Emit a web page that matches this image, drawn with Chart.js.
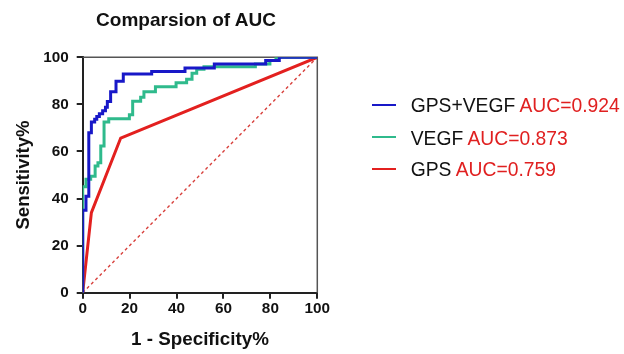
<!DOCTYPE html>
<html>
<head>
<meta charset="utf-8">
<script src="https://cdn.jsdelivr.net/npm/chart.js@4/dist/chart.umd.min.js"></script>
<style>
  html, body { margin: 0; padding: 0; background: #fff; }
  #wrap { position: relative; width: 624px; height: 354px; overflow: hidden; font-family: "Liberation Sans", Arial, sans-serif; }
  #c { position: absolute; left: 0; top: 0; }
  .title { position: absolute; left: 0; top: 8.5px; width: 372px; text-align: center; font-weight: bold; font-size: 19px; line-height: 22px; color: #111; }
  .lg { position: absolute; left: 410.7px; font-size: 19.3px; line-height: 22px; color: #111; white-space: nowrap; }
  .lg span { color: #e02020; }
  .mk { position: absolute; left: 372px; width: 24px; height: 2.4px; }
</style>
</head>
<body>
<div id="wrap">
  <canvas id="c" width="624" height="354"></canvas>
  <div class="title">Comparsion of AUC</div>
  <div class="mk" style="top:103.8px;background:#1818c8"></div>
  <div class="lg" style="top:95px">GPS+VEGF <span>AUC=0.924</span></div>
  <div class="mk" style="top:136.1px;background:#2fba8c"></div>
  <div class="lg" style="top:127.5px">VEGF <span>AUC=0.873</span></div>
  <div class="mk" style="top:167.8px;background:#e3201f"></div>
  <div class="lg" style="top:158.5px">GPS <span>AUC=0.759</span></div>
</div>
<script>
// Data (1 - Specificity %, Sensitivity %)
const seriesNames = ['GPS+VEGF', 'VEGF', 'GPS'];
const aucValues = [0.924, 0.873, 0.759];

const blueFpr = [0, 0, 1.4, 2.6, 3.7, 5.1, 6.0, 7.1, 8.5, 9.7, 10.5, 11.9, 14.2, 17.3, 29.4, 43.6, 56.1, 78.0, 83.8, 100];
const blueTpr = [0, 35, 41, 68, 72.5, 73.7, 74.8, 76, 77.3, 78.8, 81.2, 85.4, 89.8, 92.9, 94, 95.5, 97.2, 98.6, 100, 100];

const greenFpr = [0, 0, 1.4, 3.4, 5.3, 6.5, 7.7, 9.1, 11.1, 19.9, 21.3, 24.7, 26.1, 31.0, 39.8, 44.3, 46.6, 48.6, 51.7, 73.6, 79.8, 82.4, 100];
const greenTpr = [0, 45, 48.2, 49.5, 53.8, 55.2, 62.3, 72.5, 73.9, 75.6, 81.3, 83, 85.4, 87.5, 89.2, 90.7, 93.2, 94.9, 96, 97.2, 98.6, 100, 100];

const redFpr = [0, 3.7, 16.2, 100];
const redTpr = [0, 34, 65.7, 100];

const refFpr = [0, 100];
const refTpr = [0, 100];

const xTicks = [0, 20, 40, 60, 80, 100];
const yTicks = [0, 20, 40, 60, 80, 100];

function pts(xs, ys) { return xs.map((x, i) => ({ x: x, y: ys[i] })); }

const FONT = '"Liberation Sans", Arial, sans-serif';

const frame = {
  id: 'frame',
  beforeDatasetsDraw(chart) {
    const a = chart.chartArea, ctx = chart.ctx;
    ctx.save();
    ctx.strokeStyle = '#555';
    ctx.lineWidth = 1.5;
    ctx.beginPath();
    ctx.moveTo(a.left, a.top);
    ctx.lineTo(a.right, a.top);
    ctx.lineTo(a.right, a.bottom);
    ctx.stroke();
    ctx.restore();
  }
};

new Chart(document.getElementById('c'), {
  type: 'line',
  data: {
    datasets: [
      { label: seriesNames[0], data: pts(blueFpr, blueTpr), borderColor: '#1818c8', borderWidth: 3, stepped: 'before', pointRadius: 0, fill: false },
      { label: seriesNames[1], data: pts(greenFpr, greenTpr), borderColor: '#2fba8c', borderWidth: 3, stepped: 'before', pointRadius: 0, fill: false },
      { label: seriesNames[2], data: pts(redFpr, redTpr), borderColor: '#e3201f', borderWidth: 3, pointRadius: 0, tension: 0, fill: false },
      { label: 'ref', data: pts(refFpr, refTpr), borderColor: '#d8403c', borderWidth: 1.4, borderDash: [3, 3], pointRadius: 0, fill: false }
    ]
  },
  options: {
    responsive: false,
    animation: false,
    layout: { padding: { left: 0, right: 306.7, top: 57.3, bottom: 0 } },
    plugins: { legend: { display: false }, tooltip: { enabled: false }, title: { display: false } },
    scales: {
      x: {
        type: 'linear', min: 0, max: 100,
        afterBuildTicks(s) { s.ticks = xTicks.map(v => ({ value: v })); },
        afterFit(s) { s.height = 61.3; },
        ticks: { font: { family: FONT, size: 15.3, weight: 'bold' }, color: '#111', padding: 1, maxRotation: 0 },
        grid: { drawOnChartArea: false, drawTicks: true, tickLength: 6, color: '#222', lineWidth: 2 },
        border: { display: true, color: '#222', width: 2 },
        title: { display: true, text: '1 - Specificity%', color: '#111', font: { family: FONT, size: 18.8, weight: 'bold' }, padding: { top: 0, bottom: 2.5 } }
      },
      y: {
        type: 'linear', min: 0, max: 100,
        afterBuildTicks(s) { s.ticks = yTicks.map(v => ({ value: v })); },
        afterFit(s) { s.width = 82.7; },
        ticks: { font: { family: FONT, size: 15.3, weight: 'bold' }, color: '#111', padding: 8 },
        grid: { drawOnChartArea: false, drawTicks: true, tickLength: 6, color: '#222', lineWidth: 2 },
        border: { display: true, color: '#222', width: 2 },
        title: { display: true, text: 'Sensitivity%', color: '#111', font: { family: FONT, size: 18.5, weight: 'bold' }, padding: { top: 12.5, bottom: 0 } }
      }
    }
  },
  plugins: [frame]
});
</script>
</body>
</html>
